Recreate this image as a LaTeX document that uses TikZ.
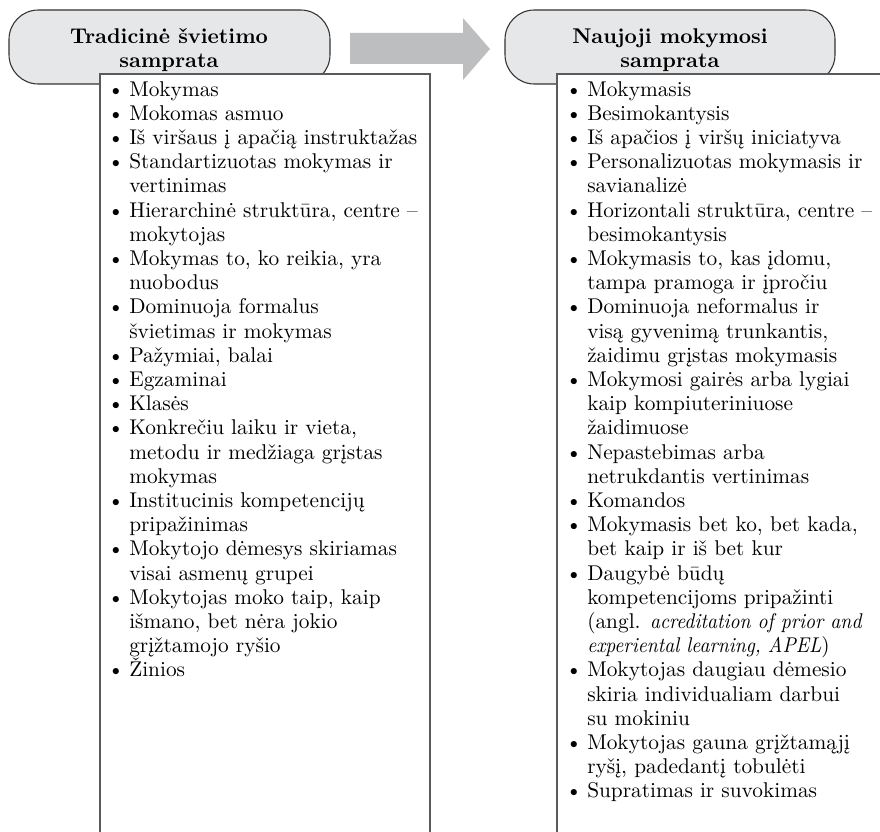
\documentclass[tikz,border=0pt]{standalone}
\usepackage{fontspec}
\setmainfont{lmroman10-regular.otf}[BoldFont=lmroman10-bold.otf, ItalicFont=lmroman10-italic.otf, ItalicFeatures={FakeStretch=0.92}]
\definecolor{headgray}{HTML}{E6E7E8}
\definecolor{arrowgray}{HTML}{BCBEC0}
\definecolor{framegray}{HTML}{5A5A5A}
\newcommand{\listfont}{\fontsize{16}{18.15}\selectfont}
\newcommand{\itembul}{\makebox[17.25pt][l]{\hspace{1pt}\textbullet}}
\newcommand{\itemcont}{\hspace*{17.25pt}}
\tikzset{
  headbox/.style={draw=black!80, fill=headgray, line width=0.8pt, rounded corners=22pt},
  listbox/.style={draw=framegray, line width=1pt},
  headtext/.style={font=\listfont\bfseries, align=center, inner sep=0pt},
  listtext/.style={font=\listfont, align=left, anchor=north west, inner sep=0pt}
}

\begin{document}
\begin{tikzpicture}[x=0.75pt,y=-0.75pt]
	\useasboundingbox (0,0) rectangle (880,831);
	% headers
	\draw[headbox] (9,10) rectangle (330,84);
	\draw[headbox] (505,10) rectangle (835,84);
	\node[headtext] (oldhead) at (169,50) {Tradicinė švietimo\\samprata};
	\node[headtext] (newhead) at (670,50) {Naujoji mokymosi\\samprata};
	% arrow
	\fill[arrowgray] (350,33) -- (463,33) -- (463,18) -- (490,49) -- (463,80) -- (463,64) -- (350,64) -- cycle;
	% list boxes
	\fill[white] (100,74) rectangle (430,840);
	\draw[listbox] (100,840) -- (100,74) -- (430,74) -- (430,840);
	\fill[white] (557,74) rectangle (890,840);
	\draw[listbox] (557,840) -- (557,74) -- (890,74);
	% traditional
	\node[listtext] (oldlist) at (106,81) {%
		\itembul Mokymas\\
		\itembul Mokomas asmuo\\
		\itembul Iš viršaus į apačią instruktažas\\
		\itembul Standartizuotas mokymas ir\\
		\itemcont vertinimas\\
		\itembul Hierarchinė struktūra, centre –\\
		\itemcont mokytojas\\
		\itembul Mokymas to, ko reikia, yra\\
		\itemcont nuobodus\\
		\itembul Dominuoja formalus\\
		\itemcont švietimas ir mokymas\\
		\itembul Pažymiai, balai\\
		\itembul Egzaminai\\
		\itembul Klasės\\
		\itembul Konkrečiu laiku ir vieta,\\
		\itemcont metodu ir medžiaga grįstas\\
		\itemcont mokymas\\
		\itembul Institucinis kompetencijų\\
		\itemcont pripažinimas\\
		\itembul Mokytojo dėmesys skiriamas\\
		\itemcont visai asmenų grupei\\
		\itembul Mokytojas moko taip, kaip\\
		\itemcont išmano, bet nėra jokio\\
		\itemcont grįžtamojo ryšio\\
		\itembul Žinios};
	% new
	\node[listtext] (newlist) at (564,81) {%
		\itembul Mokymasis\\
		\itembul Besimokantysis\\
		\itembul Iš apačios į viršų iniciatyva\\
		\itembul Personalizuotas mokymasis ir\\
		\itemcont savianalizė\\
		\itembul Horizontali struktūra, centre –\\
		\itemcont besimokantysis\\
		\itembul Mokymasis to, kas įdomu,\\
		\itemcont tampa pramoga ir įpročiu\\
		\itembul Dominuoja neformalus ir\\
		\itemcont visą gyvenimą trunkantis,\\
		\itemcont žaidimu grįstas mokymasis\\
		\itembul Mokymosi gairės arba lygiai\\
		\itemcont kaip kompiuteriniuose\\
		\itemcont žaidimuose\\
		\itembul Nepastebimas arba\\
		\itemcont netrukdantis vertinimas\\
		\itembul Komandos\\
		\itembul Mokymasis bet ko, bet kada,\\
		\itemcont bet kaip ir iš bet kur\\
		\itembul Daugybė būdų\\
		\itemcont kompetencijoms pripažinti\\
		\itemcont (angl. \textit{acreditation of prior and}\\
		\itemcont \textit{experiental learning, APEL})\\
		\itembul Mokytojas daugiau dėmesio\\
		\itemcont skiria individualiam darbui\\
		\itemcont su mokiniu\\
		\itembul Mokytojas gauna grįžtamąjį\\
		\itemcont ryšį, padedantį tobulėti\\
		\itembul Supratimas ir suvokimas};
\end{tikzpicture}
\end{document}
